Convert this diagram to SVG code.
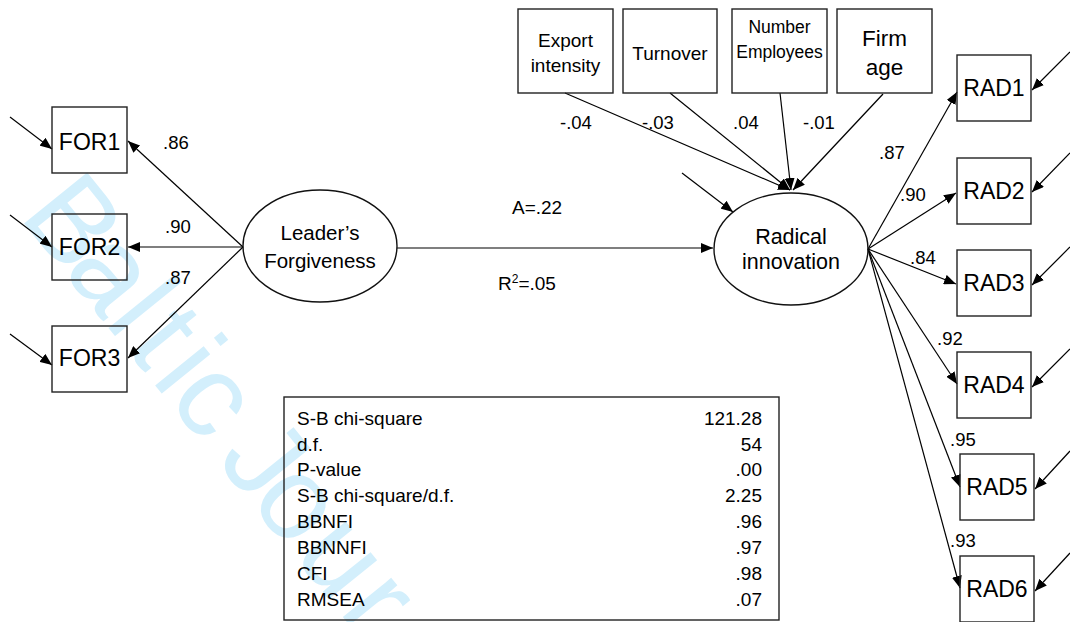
<svg xmlns="http://www.w3.org/2000/svg" width="1070" height="622" viewBox="0 0 1070 622">
<defs>
<marker id="ah" markerUnits="userSpaceOnUse" markerWidth="13" markerHeight="10" refX="12" refY="5" orient="auto">
<path d="M0,0 L12,5 L0,10 z" fill="#000"/>
</marker>
<style>
text{font-family:"Liberation Sans",Arial,sans-serif;fill:#000}
.box{fill:none;stroke:#222;stroke-width:1.4}
.ell{fill:none;stroke:#111;stroke-width:1.4}
.c line{stroke:#000;stroke-width:1.2;marker-end:url(#ah)}
.lab{font-size:18.5px}
.ind{font-size:23px;text-anchor:middle}
.ctl{font-size:19px;text-anchor:middle}
.lat{font-size:20.5px;text-anchor:middle}
.tb{font-size:19px}
.tv{font-size:19px;text-anchor:end}
.wm{font-size:118px;fill:#d3effc}
</style>
</defs>
<rect width="1070" height="622" fill="#fff"/>
<text class="wm" transform="translate(18 216) rotate(51)" x="0 70 136 170 210 236 292 314 366 436 508" y="0">Baltic Jour</text>

<g class="c" id="connectors">
<line x1="10" y1="117" x2="52" y2="149"/>
<line x1="10" y1="215" x2="52" y2="247"/>
<line x1="10" y1="334" x2="52" y2="365"/>
<line x1="243" y1="247" x2="128" y2="141"/>
<line x1="243" y1="247" x2="128" y2="247"/>
<line x1="243" y1="247" x2="128" y2="358"/>
<line x1="397" y1="248" x2="713" y2="248"/>
<line x1="682" y1="173" x2="733" y2="212"/>
<line x1="565" y1="93" x2="790" y2="190"/>
<line x1="670" y1="93" x2="790" y2="190"/>
<line x1="780" y1="93" x2="791" y2="190"/>
<line x1="883" y1="94" x2="793" y2="190"/>
<line x1="868" y1="249" x2="957" y2="92"/>
<line x1="868" y1="249" x2="956" y2="193"/>
<line x1="868" y1="249" x2="956" y2="284"/>
<line x1="868" y1="249" x2="957" y2="384"/>
<line x1="868" y1="249" x2="960" y2="487"/>
<line x1="868" y1="249" x2="960" y2="588"/>
<line x1="1070" y1="52" x2="1032" y2="90"/>
<line x1="1070" y1="153" x2="1032" y2="192"/>
<line x1="1070" y1="247" x2="1032" y2="285"/>
<line x1="1070" y1="349" x2="1032" y2="387"/>
<line x1="1070" y1="451" x2="1035" y2="489"/>
<line x1="1070" y1="553" x2="1035" y2="591"/>
</g>

<g id="for1"><rect class="box" x="52" y="107" width="75" height="66"/><text class="ind" x="89.5" y="150">FOR1</text></g>
<g id="for2"><rect class="box" x="52" y="214" width="75" height="66"/><text class="ind" x="89.5" y="255">FOR2</text></g>
<g id="for3"><rect class="box" x="52" y="326" width="75" height="66"/><text class="ind" x="89.5" y="366">FOR3</text></g>

<g id="leader"><ellipse class="ell" cx="320" cy="246" rx="77" ry="56"/><text class="lat" x="320" y="240">Leader’s</text><text class="lat" x="320" y="268">Forgiveness</text></g>
<g id="radical"><ellipse class="ell" cx="791" cy="249" rx="77" ry="56"/><text class="lat" x="791" y="244" style="font-size:21.5px">Radical</text><text class="lat" x="791" y="269" style="font-size:21.5px">innovation</text></g>

<g id="export"><rect class="box" x="518" y="9" width="95" height="84"/><text class="ctl" x="565.5" y="47">Export</text><text class="ctl" x="565.5" y="72">intensity</text></g>
<g id="turnover"><rect class="box" x="623" y="9" width="94" height="84"/><text class="ctl" x="670" y="60">Turnover</text></g>
<g id="employees"><rect class="box" x="732" y="9" width="95" height="84"/><text class="ctl" x="779.5" y="33" style="font-size:17.5px">Number</text><text class="ctl" x="779.5" y="58" style="font-size:17.5px">Employees</text></g>
<g id="firmage"><rect class="box" x="837" y="9" width="95" height="84"/><text class="ctl" x="884.5" y="46" style="font-size:22.5px">Firm</text><text class="ctl" x="884.5" y="75" style="font-size:22.5px">age</text></g>

<g id="rad1"><rect class="box" x="957" y="55" width="74" height="66"/><text class="ind" x="994" y="96">RAD1</text></g>
<g id="rad2"><rect class="box" x="957" y="158" width="74" height="66"/><text class="ind" x="994" y="199">RAD2</text></g>
<g id="rad3"><rect class="box" x="957" y="250" width="74" height="66"/><text class="ind" x="994" y="291">RAD3</text></g>
<g id="rad4"><rect class="box" x="957" y="352" width="74" height="66"/><text class="ind" x="994" y="393">RAD4</text></g>
<g id="rad5"><rect class="box" x="960" y="454" width="74" height="66"/><text class="ind" x="997" y="495">RAD5</text></g>
<g id="rad6"><rect class="box" x="960" y="556" width="74" height="66"/><text class="ind" x="997" y="597">RAD6</text></g>

<g id="labels" class="lab">
<text class="lab" x="163" y="149">.86</text>
<text class="lab" x="165" y="233">.90</text>
<text class="lab" x="165" y="284">.87</text>
<text class="lab" x="560" y="129">-.04</text>
<text class="lab" x="642" y="129">-.03</text>
<text class="lab" x="733" y="129">.04</text>
<text class="lab" x="803" y="129">-.01</text>
<text class="lab" x="879" y="159">.87</text>
<text class="lab" x="900" y="201">.90</text>
<text class="lab" x="910" y="264">.84</text>
<text class="lab" x="937" y="345">.92</text>
<text class="lab" x="950" y="446">.95</text>
<text class="lab" x="950" y="547">.93</text>
<text class="lab" x="512" y="214" style="font-size:19px">A=.22</text>
<text class="lab" x="498" y="290" style="font-size:19px">R<tspan dy="-7" style="font-size:12px">2</tspan><tspan dy="7">=.05</tspan></text>
</g>

<g id="fit-table">
<rect class="box" x="284" y="397" width="495" height="223"/>
<text class="tb" x="297" y="425">S-B chi-square</text><text class="tv" x="762" y="425">121.28</text>
<text class="tb" x="297" y="451">d.f.</text><text class="tv" x="762" y="451">54</text>
<text class="tb" x="297" y="476">P-value</text><text class="tv" x="762" y="476">.00</text>
<text class="tb" x="297" y="502">S-B chi-square/d.f.</text><text class="tv" x="762" y="502">2.25</text>
<text class="tb" x="297" y="528">BBNFI</text><text class="tv" x="762" y="528">.96</text>
<text class="tb" x="297" y="554">BBNNFI</text><text class="tv" x="762" y="554">.97</text>
<text class="tb" x="297" y="580">CFI</text><text class="tv" x="762" y="580">.98</text>
<text class="tb" x="297" y="606">RMSEA</text><text class="tv" x="762" y="606">.07</text>
</g>
</svg>
